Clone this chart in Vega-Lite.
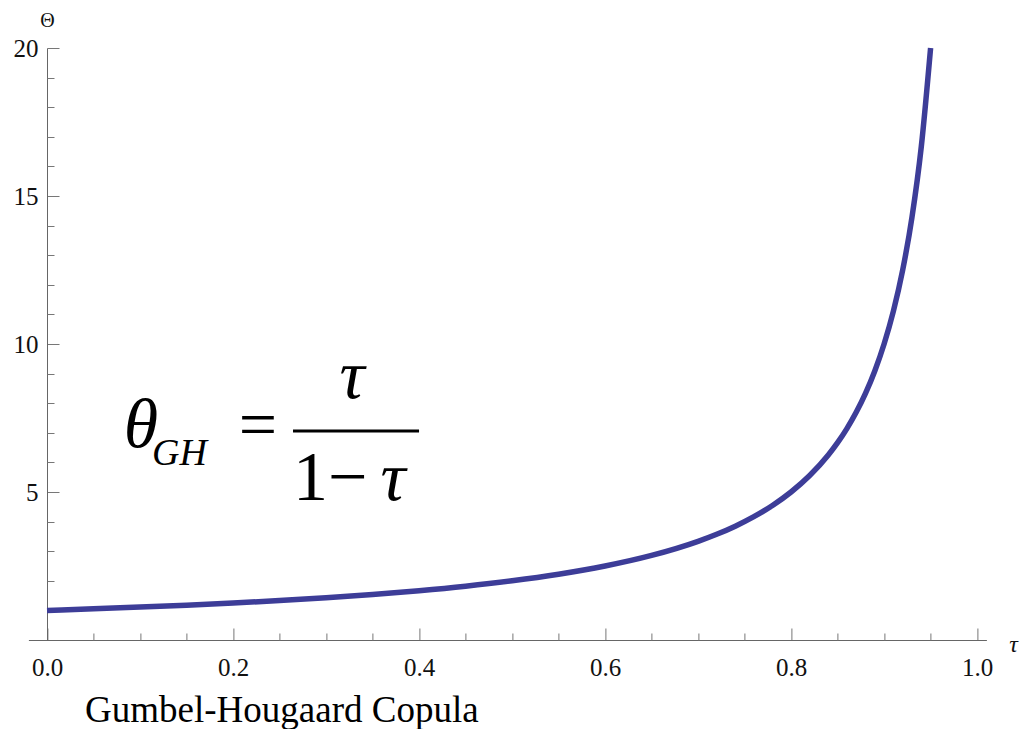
{
  "$schema": "https://vega.github.io/schema/vega-lite/v6.json",
  "width": 958,
  "height": 592,
  "autosize": {"type": "none"},
  "padding": {"left": 28.4, "top": 48, "right": 47.6, "bottom": 89},
  "background": "white",
  "config": {
    "view": {"stroke": null},
    "font": "Liberation Serif",
    "axis": {"grid": false, "domainColor": "#666666", "tickColor": "#777777", "labelColor": "#111111", "labelFont": "Liberation Serif", "labelFontSize": 25, "titleFont": "Liberation Serif", "titleFontWeight": "normal", "titleColor": "#111111"}
  },
  "datasets": {
    "curve": [
      {"tau": 0.0, "theta": 1.0},
      {"tau": 0.05, "theta": 1.053},
      {"tau": 0.1, "theta": 1.111},
      {"tau": 0.15, "theta": 1.176},
      {"tau": 0.2, "theta": 1.25},
      {"tau": 0.25, "theta": 1.333},
      {"tau": 0.3, "theta": 1.429},
      {"tau": 0.35, "theta": 1.538},
      {"tau": 0.4, "theta": 1.667},
      {"tau": 0.45, "theta": 1.818},
      {"tau": 0.5, "theta": 2.0},
      {"tau": 0.55, "theta": 2.222},
      {"tau": 0.6, "theta": 2.5},
      {"tau": 0.65, "theta": 2.857},
      {"tau": 0.7, "theta": 3.333},
      {"tau": 0.72, "theta": 3.571},
      {"tau": 0.74, "theta": 3.846},
      {"tau": 0.76, "theta": 4.167},
      {"tau": 0.78, "theta": 4.545},
      {"tau": 0.8, "theta": 5.0},
      {"tau": 0.82, "theta": 5.556},
      {"tau": 0.84, "theta": 6.25},
      {"tau": 0.85, "theta": 6.667},
      {"tau": 0.86, "theta": 7.143},
      {"tau": 0.87, "theta": 7.692},
      {"tau": 0.88, "theta": 8.333},
      {"tau": 0.89, "theta": 9.091},
      {"tau": 0.9, "theta": 10.0},
      {"tau": 0.91, "theta": 11.111},
      {"tau": 0.92, "theta": 12.5},
      {"tau": 0.93, "theta": 14.286},
      {"tau": 0.94, "theta": 16.667},
      {"tau": 0.95, "theta": 20.0}
    ]
  },
  "layer": [
    {
      "data": {"name": "curve"},
      "mark": {"type": "line", "color": "#3d3d98", "strokeWidth": 5.5, "strokeCap": "butt", "interpolate": "monotone"},
      "encoding": {
        "x": {
          "field": "tau", "type": "quantitative",
          "scale": {"domain": [-0.02, 1.01], "nice": false, "zero": false},
          "axis": {"orient": "bottom", "values": [0, 0.2, 0.4, 0.6, 0.8, 1.0], "format": ".1f", "tickSize": -12, "labelPadding": 27, "labelBaseline": "top", "title": "τ", "titleFontStyle": "italic", "titleFontSize": 24, "titleAngle": 0, "titleX": 984.6, "titleY": 4, "titleAlign": "center", "titleBaseline": "middle", "labelFlush": false}
        },
        "y": {
          "field": "theta", "type": "quantitative",
          "scale": {"domain": [0, 20], "nice": false, "zero": true},
          "axis": {"orient": "left", "offset": -18.6, "values": [5, 10, 15, 20], "tickSize": -12, "labelPadding": 21, "title": "Θ", "titleFontSize": 20, "titleAngle": 0, "titleX": 0, "titleY": -28, "titleAlign": "center", "titleBaseline": "middle", "labelFlush": false}
        }
      }
    },
    {
      "data": {"name": "curve"},
      "mark": {"type": "point", "opacity": 0},
      "encoding": {
        "x": {
          "field": "tau", "type": "quantitative",
          "axis": {"orient": "bottom", "values": [0.05, 0.1, 0.15, 0.25, 0.3, 0.35, 0.45, 0.5, 0.55, 0.65, 0.7, 0.75, 0.85, 0.9, 0.95], "tickSize": -7, "labels": false, "domain": false, "title": null}
        },
        "y": {
          "field": "theta", "type": "quantitative",
          "axis": {"orient": "left", "offset": -18.6, "values": [1, 2, 3, 4, 6, 7, 8, 9, 11, 12, 13, 14, 16, 17, 18, 19], "tickSize": -7, "labels": false, "domain": false, "title": null}
        }
      }
    },
    {
      "data": {"values": [{"label": "θ", "tau": 0.101, "theta": 6.52}, {"label": "τ", "tau": 0.328, "theta": 8.18}, {"label": "τ", "tau": 0.372, "theta": 4.73}]},
      "mark": {"type": "text", "font": "Liberation Serif", "fontStyle": "italic", "fontSize": 70, "align": "center", "baseline": "alphabetic", "color": "black"},
      "encoding": {
        "x": {"field": "tau", "type": "quantitative", "axis": null},
        "y": {"field": "theta", "type": "quantitative", "axis": null},
        "text": {"field": "label"}
      }
    },
    {
      "data": {"values": [{"label": "GH", "tau": 0.1129, "theta": 5.91}]},
      "mark": {"type": "text", "font": "Liberation Serif", "fontStyle": "italic", "fontSize": 38, "align": "left", "baseline": "alphabetic", "color": "black"},
      "encoding": {
        "x": {"field": "tau", "type": "quantitative", "axis": null},
        "y": {"field": "theta", "type": "quantitative", "axis": null},
        "text": {"field": "label"}
      }
    },
    {
      "data": {"values": [{"label": "=", "tau": 0.2269, "theta": 6.52}]},
      "mark": {"type": "text", "font": "Liberation Serif", "fontSize": 68, "align": "center", "baseline": "alphabetic", "color": "black"},
      "encoding": {
        "x": {"field": "tau", "type": "quantitative", "axis": null},
        "y": {"field": "theta", "type": "quantitative", "axis": null},
        "text": {"field": "label"}
      }
    },
    {
      "data": {"values": [{"label": "1−", "tau": 0.2645, "theta": 4.73}]},
      "mark": {"type": "text", "font": "Liberation Serif", "fontSize": 70, "align": "left", "baseline": "alphabetic", "color": "black"},
      "encoding": {
        "x": {"field": "tau", "type": "quantitative", "axis": null},
        "y": {"field": "theta", "type": "quantitative", "axis": null},
        "text": {"field": "label"}
      }
    },
    {
      "data": {"values": [{"x1": 0.2645, "x2": 0.4, "theta": 7.06}]},
      "mark": {"type": "rule", "color": "black", "strokeWidth": 3},
      "encoding": {
        "x": {"field": "x1", "type": "quantitative", "axis": null},
        "x2": {"field": "x2"},
        "y": {"field": "theta", "type": "quantitative", "axis": null}
      }
    },
    {
      "data": {"values": [{"label": "Gumbel-Hougaard Copula", "tau": 0.0409, "theta": -2.77}]},
      "mark": {"type": "text", "font": "Liberation Serif", "fontSize": 37, "align": "left", "baseline": "alphabetic", "color": "black"},
      "encoding": {
        "x": {"field": "tau", "type": "quantitative", "axis": null},
        "y": {"field": "theta", "type": "quantitative", "axis": null},
        "text": {"field": "label"}
      }
    }
  ],
  "resolve": {"axis": {"x": "independent", "y": "independent"}}
}
